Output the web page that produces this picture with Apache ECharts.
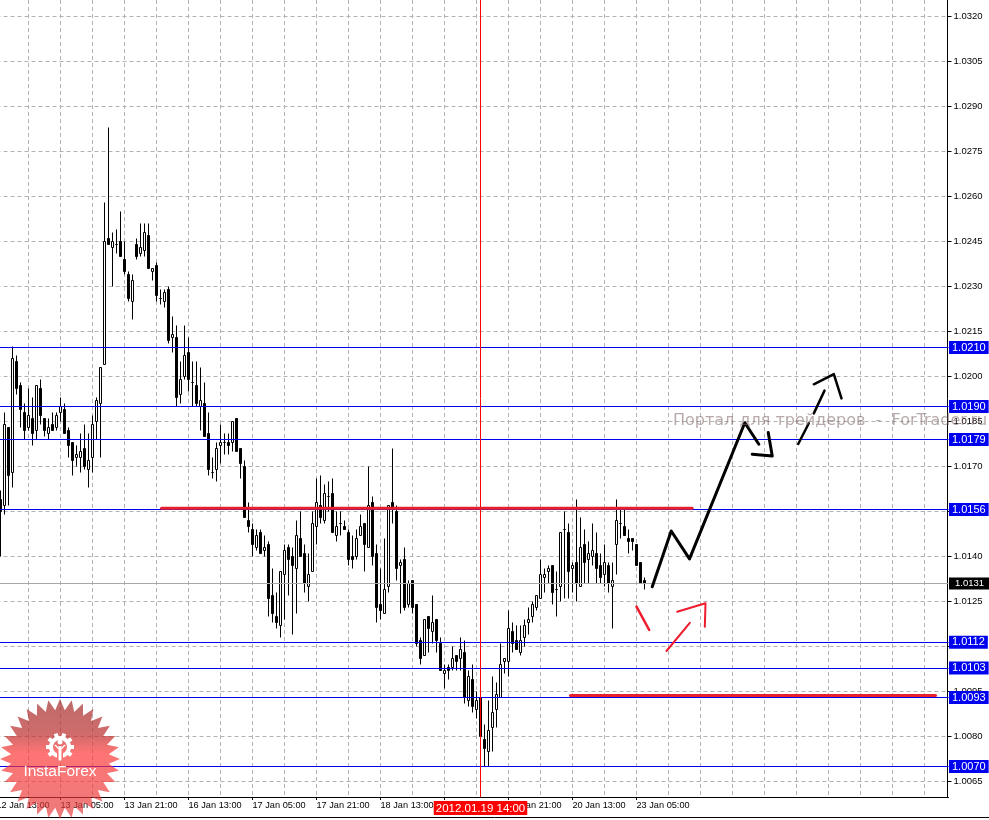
<!DOCTYPE html>
<html><head><meta charset="utf-8">
<style>html,body{margin:0;padding:0;background:#fff}#c{width:989px;height:820px}</style>
<script src="https://cdn.jsdelivr.net/npm/echarts@6/dist/echarts.min.js"></script>
</head><body><div id="c"></div>
<script>
// hourly bars, oldest first
const opens=[1.0159,1.0157,1.0183,1.0168,1.0205,1.0197,1.0188,1.0183,1.0186,1.0182,1.0196,1.0186,1.0181,1.0184,1.0183,1.0188,1.0189,1.0182,1.0178,1.0173,1.0173,1.0176,1.0169,1.0173,1.0185,1.0191,1.0204,1.0246,1.0243,1.0244,1.0245,1.0239,1.0234,1.0225,1.0244,1.0241,1.0242,1.0247,1.0235,1.0237,1.0226,1.0225,1.0229,1.0213,1.0213,1.0194,1.0200,1.0208,1.0198,1.0197,1.0190,1.0191,1.0181,1.0168,1.0169,1.0177,1.0178,1.0178,1.0178,1.0186,1.0176,1.0170,1.0152,1.0149,1.0143,1.0148,1.0142,1.0144,1.0127,1.0120,1.0117,1.0134,1.0143,1.0140,1.0136,1.0146,1.0141,1.0130,1.0135,1.0150,1.0157,1.0152,1.0160,1.0161,1.0147,1.0151,1.0150,1.0148,1.0140,1.0140,1.0147,1.0151,1.0143,1.0158,1.0141,1.0124,1.0121,1.0130,1.0158,1.0155,1.0137,1.0139,1.0124,1.0132,1.0124,1.0112,1.0107,1.0120,1.0115,1.0119,1.0111,1.0101,1.0103,1.0103,1.0107,1.0106,1.0108,1.0092,1.0099,1.0089,1.0093,1.0079,1.0075,1.0083,1.0089,1.0093,1.0105,1.0105,1.0115,1.0112,1.0108,1.0113,1.0118,1.0120,1.0123,1.0126,1.0133,1.0135,1.0137,1.0129,1.0130,1.0149,1.0148,1.0136,1.0138,1.0130,1.0144,1.0139,1.0140,1.0141,1.0137,1.0134,1.0137,1.0130,1.0144,1.0151,1.0150,1.0146,1.0146,1.0144,1.0138,1.0132];
const closes=[1.0155,1.0184,1.0167,1.0206,1.0196,1.0189,1.0182,1.0187,1.0181,1.0197,1.0187,1.0182,1.0183,1.0182,1.0187,1.0190,1.0181,1.0177,1.0172,1.0174,1.0175,1.0170,1.0172,1.0184,1.0192,1.0203,1.0245,1.0244,1.0245,1.0244,1.0240,1.0235,1.0226,1.0232,1.0240,1.0243,1.0248,1.0236,1.0236,1.0227,1.0226,1.0228,1.0212,1.0214,1.0193,1.0199,1.0207,1.0199,1.0198,1.0191,1.0192,1.0180,1.0169,1.0168,1.0176,1.0178,1.0178,1.0177,1.0185,1.0175,1.0171,1.0153,1.0150,1.0144,1.0147,1.0141,1.0143,1.0126,1.0121,1.0118,1.0135,1.0142,1.0139,1.0137,1.0147,1.0140,1.0131,1.0134,1.0151,1.0158,1.0153,1.0161,1.0160,1.0148,1.0150,1.0151,1.0149,1.0139,1.0139,1.0146,1.0150,1.0144,1.0157,1.0140,1.0123,1.0122,1.0129,1.0157,1.0156,1.0136,1.0138,1.0123,1.0131,1.0123,1.0111,1.0106,1.0119,1.0116,1.0118,1.0112,1.0102,1.0102,1.0102,1.0106,1.0105,1.0109,1.0093,1.0100,1.0090,1.0092,1.0080,1.0076,1.0082,1.0088,1.0094,1.0104,1.0106,1.0116,1.0111,1.0109,1.0112,1.0117,1.0119,1.0124,1.0127,1.0134,1.0134,1.0136,1.0128,1.0129,1.0148,1.0149,1.0135,1.0137,1.0131,1.0143,1.0138,1.0141,1.0142,1.0136,1.0133,1.0138,1.0131,1.0132,1.0152,1.0151,1.0147,1.0145,1.0145,1.0137,1.0131,1.0131];
const lows=[1.0140,1.0154,1.0157,1.0163,1.0194,1.0183,1.0179,1.0182,1.0177,1.0179,1.0184,1.0180,1.0179,1.0182,1.0182,1.0185,1.0181,1.0173,1.0167,1.0170,1.0168,1.0169,1.0163,1.0168,1.0179,1.0173,1.0204,1.0244,1.0230,1.0241,1.0240,1.0234,1.0225,1.0219,1.0239,1.0240,1.0240,1.0236,1.0232,1.0225,1.0224,1.0223,1.0211,1.0208,1.0190,1.0191,1.0199,1.0195,1.0190,1.0190,1.0182,1.0180,1.0167,1.0166,1.0165,1.0171,1.0174,1.0174,1.0175,1.0175,1.0166,1.0153,1.0148,1.0140,1.0142,1.0141,1.0140,1.0120,1.0118,1.0116,1.0113,1.0119,1.0127,1.0114,1.0121,1.0140,1.0128,1.0125,1.0135,1.0144,1.0151,1.0151,1.0155,1.0148,1.0145,1.0147,1.0149,1.0137,1.0136,1.0139,1.0147,1.0135,1.0143,1.0137,1.0118,1.0119,1.0121,1.0128,1.0151,1.0132,1.0121,1.0122,1.0123,1.0121,1.0110,1.0104,1.0107,1.0108,1.0111,1.0108,1.0102,1.0096,1.0099,1.0102,1.0102,1.0102,1.0091,1.0090,1.0088,1.0086,1.0080,1.0070,1.0070,1.0075,1.0083,1.0093,1.0101,1.0100,1.0108,1.0109,1.0107,1.0110,1.0114,1.0118,1.0122,1.0126,1.0128,1.0131,1.0124,1.0120,1.0125,1.0126,1.0126,1.0128,1.0125,1.0130,1.0131,1.0131,1.0137,1.0131,1.0131,1.0130,1.0128,1.0116,1.0134,1.0146,1.0147,1.0141,1.0142,1.0137,1.0131,1.0129];
const highs=[1.0162,1.0188,1.0183,1.0210,1.0207,1.0198,1.0191,1.0196,1.0193,1.0197,1.0199,1.0186,1.0186,1.0188,1.0188,1.0193,1.0191,1.0183,1.0178,1.0177,1.0181,1.0184,1.0181,1.0187,1.0193,1.0203,1.0258,1.0283,1.0248,1.0249,1.0255,1.0245,1.0235,1.0234,1.0246,1.0251,1.0251,1.0251,1.0236,1.0238,1.0229,1.0229,1.0230,1.0220,1.0217,1.0205,1.0217,1.0213,1.0205,1.0205,1.0203,1.0198,1.0188,1.0173,1.0178,1.0184,1.0181,1.0181,1.0185,1.0186,1.0176,1.0172,1.0158,1.0151,1.0149,1.0149,1.0147,1.0145,1.0136,1.0128,1.0135,1.0144,1.0144,1.0143,1.0152,1.0155,1.0144,1.0141,1.0155,1.0166,1.0167,1.0164,1.0165,1.0166,1.0155,1.0155,1.0152,1.0149,1.0147,1.0149,1.0154,1.0151,1.0170,1.0160,1.0144,1.0136,1.0146,1.0157,1.0176,1.0157,1.0139,1.0143,1.0132,1.0132,1.0124,1.0113,1.0119,1.0120,1.0127,1.0119,1.0113,1.0104,1.0104,1.0110,1.0107,1.0113,1.0112,1.0102,1.0104,1.0095,1.0093,1.0084,1.0092,1.0100,1.0098,1.0111,1.0106,1.0122,1.0118,1.0117,1.0117,1.0119,1.0123,1.0125,1.0127,1.0139,1.0136,1.0137,1.0137,1.0135,1.0148,1.0155,1.0151,1.0138,1.0159,1.0153,1.0149,1.0145,1.0151,1.0148,1.0141,1.0144,1.0138,1.0138,1.0159,1.0156,1.0156,1.0149,1.0146,1.0144,1.0138,1.0133];

// time labels, one every 16 hourly bars
const timeLabels=['12 Jan 13:00','13 Jan 05:00','13 Jan 21:00','16 Jan 13:00','17 Jan 05:00','17 Jan 21:00','18 Jan 13:00','19 Jan 05:00','19 Jan 21:00','20 Jan 13:00','23 Jan 05:00'];
const priceTicks=[1.0065,1.0080,1.0095,1.0110,1.0125,1.0140,1.0155,1.0170,1.0185,1.0200,1.0215,1.0230,1.0245,1.0260,1.0275,1.0290,1.0305,1.0320];
const priceLabels=[1.0065,1.0080,1.0095,1.0125,1.0140,1.0170,1.0185,1.0200,1.0215,1.0230,1.0245,1.0260,1.0275,1.0290,1.0305,1.0320];
const levels=[1.020967,1.0190,1.0179,1.015567,1.01114,1.010283,1.0093,1.0070];
const levelTags=['1.0210','1.0190','1.0179','1.0156','1.0112','1.0103','1.0093','1.0070'];
const lastPrice=1.0131;
const crosshairBar=121, crosshairLabel='2012.01.19 14:00';

// hand-drawn annotations: [bar position, price]
const redSupport=[[41.25,1.01561],[173.9,1.01561]];
const redFloor=[[143.5,1.00937],[234.75,1.00937]];
const blackPath1=[[163.93,1.01299],[168.68,1.01485],[173.25,1.01392],[187.08,1.01846],[190.58,1.01774]];
const blackPath2=[[188.93,1.01741],[193.93,1.01735],[192.93,1.01813]];
const blackPath3=[[200.43,1.01775],[203.08,1.01844]];
const blackPath4=[[204.33,1.01877],[207,1.01953]];
const blackPath5=[[204.33,1.01974],[209.33,1.02008],[211.25,1.01927]];
const redPath1=[[160,1.01233],[163.18,1.01155]];
const redPath2=[[167.5,1.01085],[173.33,1.01179]];
const redPath3=[[170.18,1.01216],[177.25,1.01244],[177.08,1.01166]];

const BAR_SLOTS=239;
const categories=[];
for(let i=0;i<BAR_SLOTS;i++) categories.push(i%16===0&&timeLabels[i/16]?timeLabels[i/16]:String(i));
const candleData=[['-','-','-','-']];
opens.forEach((o,i)=>candleData.push([o,closes[i],lows[i],highs[i]]));

const FONT='"Liberation Sans"';
function trend(data,color,width){
  return {type:'line',xAxisIndex:1,yAxisIndex:0,data,symbol:'none',silent:true,z:6,animation:false,
    lineStyle:{color,width,cap:'round',join:'round'}};
}
const levelLines=levels.map((v,i)=>({yAxis:v,
  lineStyle:{color:'#0000f0',width:1,type:'solid'},
  label:{show:true,position:'end',distance:0.5,formatter:levelTags[i],color:'#fff',backgroundColor:'#0000f0',
    fontFamily:FONT,fontSize:11,padding:[1,3,0,3],lineHeight:12}}));
const lastLine={yAxis:lastPrice,lineStyle:{color:'#a8a8a8',width:1,type:'solid'},
  label:{show:true,position:'end',distance:0.5,formatter:lastPrice.toFixed(4),color:'#fff',backgroundColor:'#000',
    fontFamily:FONT,fontSize:9.5,padding:[2,8,1,6],lineHeight:9}};
const crossLine={xAxis:crosshairBar,lineStyle:{color:'#ff0000',width:1,type:'solid'},
  label:{show:true,position:'start',distance:4,formatter:crosshairLabel,color:'#fff',backgroundColor:'#ff0000',
    fontFamily:FONT,fontSize:11.5,padding:[1,2,0,2],lineHeight:13}};

// InstaForex badge outline
const starPts=[];const CX=60,CY=759,RO=60,RI=49,SP=32;
for(let i=0;i<SP*2;i++){const r=i%2?RI:RO,a=-Math.PI/2+i*Math.PI/SP;starPts.push([CX+r*Math.cos(a),CY+r*Math.sin(a)]);}
const gearEls=[];
for(let i=0;i<10;i++){
  const a=(-90+18+i*36)*Math.PI/180;
  if(i===4||i===5) continue;
  gearEls.push({type:'rect',z:101,x:CX+12*Math.cos(a),y:747+12*Math.sin(a),rotation:-a,originX:0,originY:0,
    shape:{x:-3,y:-2,width:5,height:4},style:{fill:'#fff'}});
}

const chart=echarts.init(document.getElementById('c'),null,{renderer:'canvas'});
chart.setOption({
  animation:false,backgroundColor:'#fff',
  grid:{left:-3.5,top:0,width:952,height:797,containLabel:false,outerBoundsMode:'none'},
  xAxis:[{type:'category',data:categories,boundaryGap:false,
      axisLine:{onZero:false,lineStyle:{color:'#000',width:1}},
      axisTick:{length:3,alignWithLabel:true,interval:i=>i%16===0&&i<=160,lineStyle:{color:'#000'}},
      axisLabel:{interval:i=>i%16===0&&i<=160,hideOverlap:false,showMinLabel:true,showMaxLabel:true,align:'left',margin:4,color:'#000',fontFamily:FONT,fontSize:9.2,
        formatter:v=>timeLabels.includes(v)?v:''},
      splitLine:{show:true,interval:i=>i%8===0,lineStyle:{color:'#b8b0b8',width:1,type:[4,3]}}},
    {type:'value',min:0,max:BAR_SLOTS-1,show:false,splitLine:{show:false}}],
  yAxis:[{type:'value',position:'right',offset:-1,min:1.005983,max:1.03255,scale:true,
    axisLine:{show:true,onZero:false,lineStyle:{color:'#000',width:1}},
    axisTick:{show:true,length:4,customValues:priceTicks,lineStyle:{color:'#000'}},
    axisLabel:{customValues:priceLabels,margin:6,color:'#000',fontFamily:FONT,fontSize:9.5,formatter:v=>v.toFixed(4)},
    splitLine:{show:true,lineStyle:{color:'#b0b4b0',width:1,type:[4,3]}}}],
  series:[
    {type:'candlestick',xAxisIndex:0,yAxisIndex:0,data:candleData,barWidth:3,large:false,progressive:0,silent:true,z:3,
     itemStyle:{color:'#fff',color0:'#000',borderColor:'#000',borderColor0:'#000',borderWidth:1},
     markLine:{silent:true,precision:6,symbol:['none','none'],animation:false,z:5,data:[lastLine,...levelLines,crossLine]}},
    trend(redSupport,'#e8202c',3),
    trend(redFloor,'#e8202c',3),
    trend(blackPath1,'#000',3),trend(blackPath2,'#000',3),trend(blackPath3,'#000',2.5),trend(blackPath4,'#000',2.5),trend(blackPath5,'#000',2.5),
    trend(redPath1,'#ee1c2c',2.5),trend(redPath2,'#ee1c2c',2),trend(redPath3,'#ee1c2c',2)
  ],
  graphic:[
    {type:'line',z:50,shape:{x1:0,y1:817.5,x2:989,y2:817.5},style:{stroke:'#000',lineWidth:1}},
    {type:'text',z:60,x:673,y:413,style:{text:'Портал для трейдеров \u00a0-\u00a0 ForTrader.ru',fill:'rgba(125,100,100,0.55)',font:'16px "DejaVu Sans"'}},
    {type:'polygon',z:100,shape:{points:starPts},style:{fill:{type:'linear',x:0,y:0,x2:0,y2:1,colorStops:[
      {offset:0,color:'rgba(165,50,50,0.72)'},{offset:0.3,color:'rgba(190,50,50,0.72)'},{offset:0.45,color:'rgba(255,50,50,0.68)'},{offset:1,color:'rgba(225,60,60,0.68)'}]}}},
    {type:'ring',z:101,shape:{cx:CX,cy:747,r:11,r0:7},style:{fill:'#fff'}},
    ...gearEls,
    {type:'rect',z:102,shape:{x:CX-3,y:753,width:6,height:8},style:{fill:'#ee7070'}},
    {type:'circle',z:103,shape:{cx:CX,cy:742,r:2.5},style:{fill:'#fff'}},
    {type:'rect',z:103,shape:{x:CX-1.5,y:746,width:3,height:14.5},style:{fill:'#fff'}},
    {type:'polyline',z:103,shape:{points:[[CX-5,745],[CX-1,749]]},style:{stroke:'#fff',lineWidth:1.5,fill:'none'}},
    {type:'polyline',z:103,shape:{points:[[CX+5,745],[CX+1,749]]},style:{stroke:'#fff',lineWidth:1.5,fill:'none'}},
    {type:'text',z:104,x:CX,y:764,style:{text:'InstaForex',fill:'#fff',font:'15.5px '+FONT,align:'center'}}
  ]
});
</script></body></html>
